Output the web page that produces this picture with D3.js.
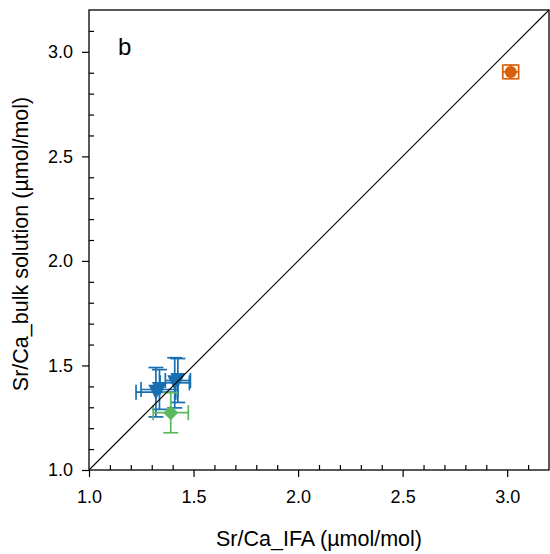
<!DOCTYPE html>
<html>
<head>
<meta charset="utf-8">
<script src="https://cdn.jsdelivr.net/npm/d3@7"></script>
<style>
  body { margin: 0; background: #fff; }
  svg text { font-family: "Liberation Sans", Arial, sans-serif; fill: #000; }
</style>
</head>
<body>
<div id="chart"></div>
<script>
// values (Sr/Ca, umol/mol)
var seriesNames = ["blue", "green", "orange"];
var seriesColors = ["#176fb0", "#5cb85c", "#d9600a"];
var seriesShapes = ["triangleDown", "diamond", "circle"];

var pointSeries = [0, 0, 0, 0, 1, 2];
var ifaValues  = [1.320, 1.337, 1.410, 1.425, 1.391, 3.017];
var bulkValues = [1.372, 1.385, 1.417, 1.428, 1.274, 2.904];
var ifaErrors  = [0.095, 0.088, 0.070, 0.060, 0.084, 0.038];
var bulkErrors = [0.118, 0.095, 0.120, 0.105, 0.096, 0.033];

var axisDomain = [1.0, 3.2];
var majorTicks = [1.0, 1.5, 2.0, 2.5, 3.0];
var minorTicks = [1.1, 1.2, 1.3, 1.4, 1.6, 1.7, 1.8, 1.9, 2.1, 2.2, 2.3, 2.4, 2.6, 2.7, 2.8, 2.9, 3.1];

var xLabel = "Sr/Ca_IFA (\u00b5mol/mol)";
var yLabel = "Sr/Ca_bulk solution (\u00b5mol/mol)";
var panelLabel = "b";

var margin = {top: 10, right: 1, bottom: 84, left: 89};
var width = 550 - margin.left - margin.right,
    height = 554 - margin.top - margin.bottom;

var svg = d3.select("#chart").append("svg")
    .attr("width", 550)
    .attr("height", 554);

var g = svg.append("g")
    .attr("transform", "translate(" + margin.left + "," + margin.top + ")");

var x = d3.scaleLinear().domain(axisDomain).range([0, width]);
var y = d3.scaleLinear().domain(axisDomain).range([height, 0]);

// major ticks point out, minor ticks point in
var xAxis = g.append("g")
    .attr("transform", "translate(0," + height + ")")
    .call(d3.axisBottom(x).tickValues(majorTicks).tickSize(7).tickPadding(13).tickFormat(d3.format(".1f")));
var xMinor = g.append("g")
    .attr("transform", "translate(0," + height + ")")
    .call(d3.axisBottom(x).tickValues(minorTicks).tickSize(-5).tickFormat(""));
var yAxis = g.append("g")
    .call(d3.axisLeft(y).tickValues(majorTicks).tickSize(7).tickPadding(9).tickFormat(d3.format(".1f")));
var yMinor = g.append("g")
    .call(d3.axisLeft(y).tickValues(minorTicks).tickSize(-5).tickFormat(""));

[xAxis, xMinor, yAxis, yMinor].forEach(function(a) {
    a.select(".domain").remove();
    a.selectAll("line").attr("stroke", "#000").attr("stroke-width", 1.2);
    a.selectAll("text").style("font-size", "18px").attr("fill", "#000");
});

var points = ifaValues.map(function(v, i) {
    return {x: v, y: bulkValues[i], ex: ifaErrors[i], ey: bulkErrors[i], s: pointSeries[i]};
});

function markerPath(shape, cx, cy) {
    if (shape == "triangleDown") {
        var h = 7.5;
        return "M" + (cx - h) + "," + (cy - h) + "L" + (cx + h) + "," + (cy - h) + "L" + cx + "," + (cy + h) + "Z";
    }
    if (shape == "diamond") {
        var d = 7.5;
        return "M" + cx + "," + (cy - d) + "L" + (cx + d) + "," + cy + "L" + cx + "," + (cy + d) + "L" + (cx - d) + "," + cy + "Z";
    }
    return d3.arc()({innerRadius: 0, outerRadius: 6, startAngle: 0, endAngle: 2 * Math.PI})
        .replace(/^M/, "M").toString();
}

var cap = 7.5;

seriesNames.forEach(function(name, si) {
    var color = seriesColors[si];
    var pts = points.filter(function(d) { return d.s == si; });
    var sg = g.append("g").attr("class", "series-" + name);

    // error bars first, markers on top
    var bars = sg.selectAll(".err").data(pts).enter().append("g")
        .attr("class", "err")
        .attr("stroke", color)
        .attr("stroke-width", 1.7)
        .attr("fill", "none");

    bars.append("line")
        .attr("x1", function(d) { return x(d.x - d.ex); })
        .attr("x2", function(d) { return x(d.x + d.ex); })
        .attr("y1", function(d) { return y(d.y); })
        .attr("y2", function(d) { return y(d.y); });
    bars.append("line")
        .attr("x1", function(d) { return x(d.x); })
        .attr("x2", function(d) { return x(d.x); })
        .attr("y1", function(d) { return y(d.y - d.ey); })
        .attr("y2", function(d) { return y(d.y + d.ey); });

    [-1, 1].forEach(function(sign) {
        bars.append("line") // caps on x error
            .attr("x1", function(d) { return x(d.x + sign * d.ex); })
            .attr("x2", function(d) { return x(d.x + sign * d.ex); })
            .attr("y1", function(d) { return y(d.y) - cap; })
            .attr("y2", function(d) { return y(d.y) + cap; });
        bars.append("line") // caps on y error
            .attr("x1", function(d) { return x(d.x) - cap; })
            .attr("x2", function(d) { return x(d.x) + cap; })
            .attr("y1", function(d) { return y(d.y + sign * d.ey); })
            .attr("y2", function(d) { return y(d.y + sign * d.ey); });
    });

    sg.selectAll(".marker").data(pts).enter().append("path")
        .attr("class", "marker")
        .attr("fill", color)
        .attr("stroke", "none")
        .attr("d", function(d) {
            if (seriesShapes[si] == "circle") return null;
            return markerPath(seriesShapes[si], x(d.x), y(d.y));
        });
    if (seriesShapes[si] == "circle") {
        sg.selectAll(".marker").remove();
        sg.selectAll(".dot").data(pts).enter().append("circle")
            .attr("class", "dot")
            .attr("cx", function(d) { return x(d.x); })
            .attr("cy", function(d) { return y(d.y); })
            .attr("r", 6)
            .attr("fill", color);
    }
});

// 1:1 line
g.append("line")
    .attr("x1", x(axisDomain[0])).attr("y1", y(axisDomain[0]))
    .attr("x2", x(axisDomain[1])).attr("y2", y(axisDomain[1]))
    .attr("stroke", "#000")
    .attr("stroke-width", 1.1);

// frame
g.append("rect")
    .attr("width", width)
    .attr("height", height)
    .attr("fill", "none")
    .attr("stroke", "#000")
    .attr("stroke-width", 1.3);

g.append("text")
    .attr("x", 29)
    .attr("y", 45)
    .style("font-size", "24px")
    .text(panelLabel);

svg.append("text")
    .attr("x", margin.left + width / 2)
    .attr("y", 546)
    .attr("text-anchor", "middle")
    .style("font-size", "21.5px")
    .text(xLabel);

svg.append("text")
    .attr("transform", "translate(28," + (margin.top + height / 2 + 4) + ") rotate(-90)")
    .attr("text-anchor", "middle")
    .style("font-size", "21.5px")
    .text(yLabel);
</script>
</body>
</html>
